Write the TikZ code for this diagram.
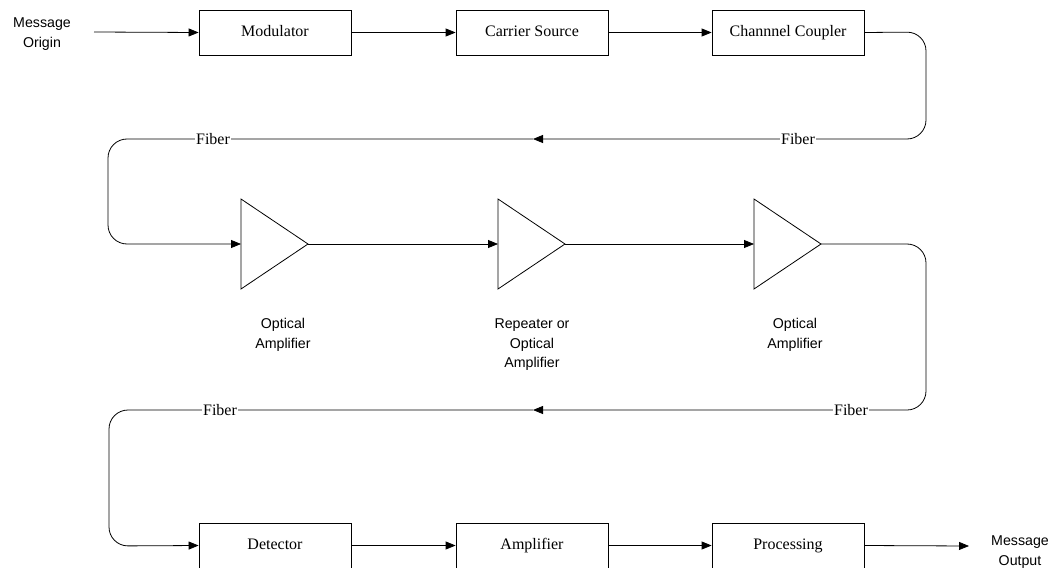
\documentclass[tikz,border=0pt]{standalone}
\usepackage{fontspec}
\setmainfont{Liberation Serif}
\newfontfamily\labelfont{Liberation Sans}
\usetikzlibrary{arrows.meta}
\begin{document}
\begin{tikzpicture}[x=1pt,y=-1pt,
  line width=0.8pt,
  arr/.style={-{Triangle[length=10pt,width=8pt]}},
  blk/.style={draw, minimum width=152pt, minimum height=45pt, inner sep=0pt,
    text height=11pt, text depth=3.5pt,
    font=\fontsize{16}{18}\selectfont},
  lbl/.style={align=center, font=\labelfont\fontsize{14.2}{19.5}\selectfont},
  fib/.style={fill=white, inner sep=1pt, font=\fontsize{16}{18}\selectfont},
  loop/.style={rounded corners=19pt}]
\useasboundingbox (0,0) rectangle (1056,567);
\clip (0,0) rectangle (1056,567);

% top row
\node[lbl] (origin) at (42,34) {Message\\Origin};
\coordinate (ostart) at (94,32);
\node[blk] (mod) at (275,32.5) {Modulator};
\node[blk] (car) at (532,32.5) {Carrier Source};
\node[blk] (cc)  at (788,32.5) {Channnel Coupler};
\draw[arr] (ostart) -- (mod.west);
\draw[arr] (mod.east) -- (car.west);
\draw[arr] (car.east) -- (cc.west);

% amplifiers
\foreach \n/\x in {a1/241,a2/498,a3/754}{
  \coordinate (\n w) at (\x,244);
  \coordinate (\n e) at (\x+67,244);
  \draw[line join=miter] (\x,199) -- (\x+67,244) -- (\x,289) -- cycle;
}
\node[lbl] (l1) at (283,335) {Optical\\Amplifier};
\node[lbl] (l2) at (532,345) {Repeater or\\Optical\\Amplifier};
\node[lbl] (l3) at (795,335) {Optical\\Amplifier};

% first fiber loop
\coordinate (r1a) at (926,32);
\coordinate (r1b) at (926,139);
\coordinate (m1)  at (533,139);
\coordinate (l1a) at (108,139);
\coordinate (l1b) at (108,244);
\draw[arr,loop] (cc.east) -- (r1a) -- (r1b) -- (m1);
\draw[arr,loop] (m1) -- (l1a) -- (l1b) -- (a1w);
\node[fib] (f1) at (798,139) {Fiber};
\node[fib] (f2) at (213,139) {Fiber};

\draw[arr] (a1e) -- (a2w);
\draw[arr] (a2e) -- (a3w);

% second fiber loop
\coordinate (r2a) at (926,244);
\coordinate (r2b) at (926,410);
\coordinate (m2)  at (533,410);
\coordinate (l2a) at (109,410);
\coordinate (l2b) at (109,546);
\node[blk] (det)  at (275,545.5) {Detector};
\node[blk] (amp)  at (532,545.5) {Amplifier};
\node[blk] (proc) at (788,545.5) {Processing};
\draw[arr,loop] (a3e) -- (r2a) -- (r2b) -- (m2);
\draw[arr,loop] (m2) -- (l2a) -- (l2b) -- (det.west);
\node[fib] (f3) at (851,410) {Fiber};
\node[fib] (f4) at (220,410) {Fiber};

% bottom row
\draw[arr] (det.east) -- (amp.west);
\draw[arr] (amp.east) -- (proc.west);
\coordinate (oend) at (969,546);
\draw[arr] (proc.east) -- (oend);
\node[lbl] (output) at (1020,552) {Message\\Output};
\end{tikzpicture}
\end{document}
